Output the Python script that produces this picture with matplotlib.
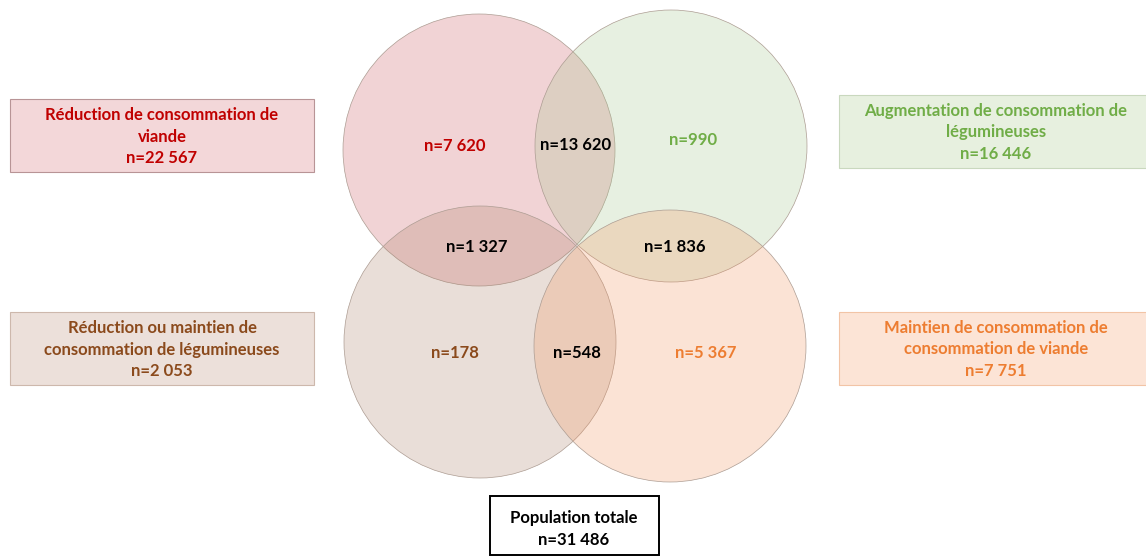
import matplotlib
matplotlib.use("Agg")
import matplotlib.pyplot as plt
from matplotlib import patches

# ===============================================================================
# data

set_names = ["Réduction de consommation de\nviande",
             "Augmentation de consommation de\nlégumineuses",
             "Réduction ou maintien de\nconsommation de légumineuses",
             "Maintien de consommation de\nconsommation de viande"]
set_totals = ["22 567", "16 446", "2 053", "7 751"]
only_counts = ["7 620", "990", "178", "5 367"]
# top (viande-/légum+), left (viande-/légum-), right (légum+/viande=), bottom (légum-/viande=)
pair_counts = ["13 620", "1 327", "1 836", "548"]
total_count = "31 486"

# ===============================================================================
# style / layout (pixels)

W, H = 1146, 556
plt.rcParams['font.family'] = ['Lato', 'DejaVu Sans']
fs = 12

circ_fill = ['#C9525B', '#A3C78B', '#AB7C64', '#F3935B']
txt_clr = ['#C00000', '#70AD47', '#8B4A1C', '#ED7D31']
box_fill = ['#F3D7D9', '#E7F0DF', '#ECE0DA', '#FCE4D6']
box_edge = ['#B89496', '#C9D8BE', '#CDB8AC', '#F2C4A6']

cx, cy, r = 576, 246, 136
centers = [(cx-97, cy-96), (cx+95, cy-100), (cx-96, cy+96), (cx+94, cy+100)]
only_pos = [(455, 146), (693, 140), (455, 353), (706, 353)]
pair_pos = [(576, 145), (477, 247), (675, 247), (577, 353)]
boxes = [(10, 99, 304, 73), (839, 95, 310, 73), (10, 312, 304, 73), (839, 312, 310, 73)]

# ===============================================================================

fig = plt.figure(figsize=(W/100, H/100), dpi=100)
ax = fig.add_axes([0, 0, 1, 1])
ax.set_xlim(0, W)
ax.set_ylim(H, 0)
ax.set_aspect('equal')
ax.axis('off')

for (x, y), c in zip(centers, circ_fill):
    ax.add_patch(patches.Circle((x, y), r, fc=c, alpha=0.25, ec='none'))
    ax.add_patch(patches.Circle((x, y), r, fc='none', ec='#AC9C92', lw=0.5))

for (x, y), n, c in zip(only_pos, only_counts, txt_clr):
    ax.text(x, y, "n=" + n, color=c, fontsize=fs, fontweight='bold', ha='center', va='center')

for (x, y), n in zip(pair_pos, pair_counts):
    ax.text(x, y, "n=" + n, color='black', fontsize=fs, fontweight='bold', ha='center', va='center')

for (x0, y0, w, h), name, n, fc, ec, tc in zip(boxes, set_names, set_totals, box_fill, box_edge, txt_clr):
    ax.add_patch(patches.Rectangle((x0, y0), w, h, fc=fc, ec=ec, lw=0.8))
    ax.text(x0 + 152 + (5 if x0 > 500 else 0), y0 + h/2 + 1, name + "\nn=" + n, color=tc, fontsize=fs,
            fontweight='bold', ha='center', va='center', linespacing=1.4)

ax.add_patch(patches.Rectangle((490, 496), 169, 59, fc='white', ec='black', lw=1.4))
ax.text(574, 529, "Population totale\nn=" + total_count, color='black', fontsize=fs,
        fontweight='bold', ha='center', va='center', linespacing=1.4)

plt.savefig("out.png", dpi=100)
plt.close()
